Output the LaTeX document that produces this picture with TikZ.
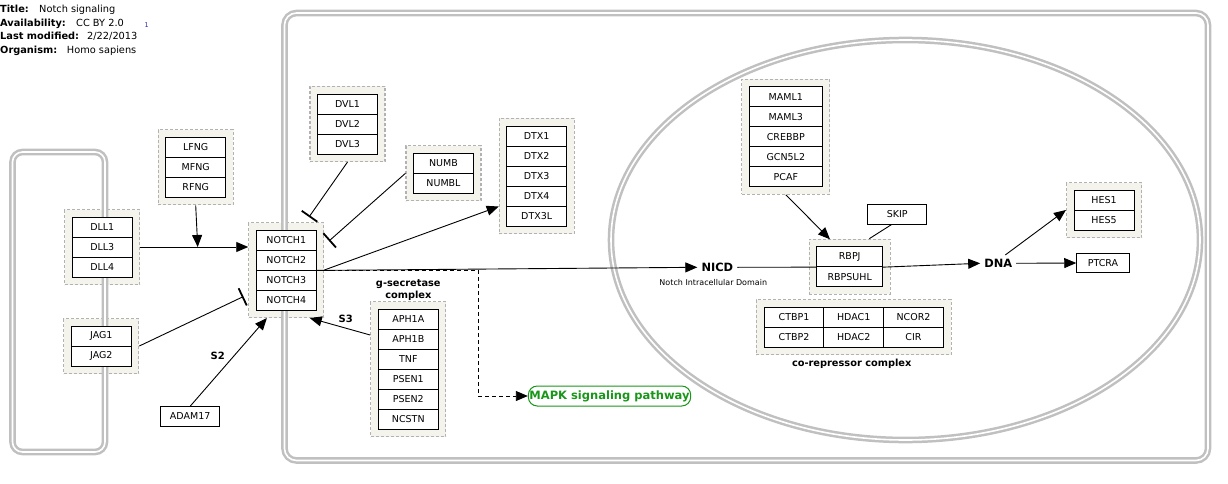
\documentclass[tikz,border=0pt]{standalone}
\usepackage{fontspec}
\setmainfont{DejaVu Sans}
\usetikzlibrary{arrows.meta}
\definecolor{membr}{RGB}{192,192,192}
\definecolor{grpfill}{RGB}{244,244,237}
\definecolor{grpline}{RGB}{178,178,178}
\definecolor{mapkgreen}{RGB}{25,150,25}
\definecolor{refblue}{RGB}{40,40,170}
\begin{document}
\begin{tikzpicture}[x=1pt,y=-1pt,
  membrane/.style={draw=membr, line width=2.5pt, double=white, double distance=1.6pt},
  grp/.style={draw=grpline, fill=grpfill, dash pattern=on 3pt off 2pt, line width=1.1pt, inner sep=0pt},
  gene/.style={draw=black, fill=white, line width=0.9pt, minimum width=60pt, minimum height=20pt, inner sep=0pt, font=\fontsize{9.5}{11}\selectfont},
  hdr/.style={anchor=base west, inner sep=0pt, font=\fontsize{9.8}{12}\selectfont},
  biglabel/.style={inner sep=4pt, font=\fontsize{11.4}{13}\selectfont\bfseries},
  boldlabel/.style={inner sep=0pt, font=\fontsize{9.8}{11.4}\selectfont\bfseries, align=center},
  conn/.style={draw=black, line width=0.9pt},
  act/.style={conn, -{Triangle[length=12pt,width=10pt]}},
  inh/.style={conn, -{Bar[width=19pt,line width=1.8pt]}},
]
\useasboundingbox (0,0) rectangle (1228,484);

% ---- header ----
\node[hdr] (htitle) at (0,13) {\bfseries Title:};
\node[hdr] (htitlev) at (39,13) {Notch signaling};
\node[hdr] (havail) at (0,26.5) {\bfseries Availability:};
\node[hdr] (havailv) at (76,26.5) {CC BY 2.0};
\node[inner sep=0pt, text=refblue, font=\fontsize{6.5}{7}\selectfont] (hnote) at (146.7,25) {1};
\node[hdr] (hmod) at (0,40) {\bfseries Last modified:};
\node[hdr] (hmodv) at (87,40) {2/22/2013};
\node[hdr] (horg) at (0,53.5) {\bfseries Organism:};
\node[hdr] (horgv) at (66.7,53.5) {Homo sapiens};

% ---- group backgrounds ----
\node[grp, minimum width=75pt, minimum height=75pt] (lfnggrp) at (195.7,167.3) {};
\node[grp, minimum width=75pt, minimum height=95pt] (notchgrp) at (286.3,270) {};
\node[grp, minimum width=75pt, minimum height=75pt] (dllgrp) at (102.3,247) {};
\node[grp, minimum width=75pt, minimum height=55pt] (jaggrp) at (101.3,346) {};
\node[grp, minimum width=75pt, minimum height=75pt] (dvlgrp) at (347.5,124) {};
\node[grp, minimum width=75pt, minimum height=55pt] (numbgrp) at (443.5,173.3) {};
\node[grp, minimum width=75pt, minimum height=115pt] (dtxgrp) at (536.7,176) {};
\node[grp, minimum width=75pt, minimum height=135pt] (gsecgrp) at (408.3,369.3) {};
\node[grp, minimum width=88pt, minimum height=115pt] (mamlgrp) at (785.8,136.7) {};
\node[grp, minimum width=81pt, minimum height=55pt] (rbpjgrp) at (849.7,266.7) {};
\node[grp, minimum width=195pt, minimum height=55pt] (corepgrp) at (853.7,327.3) {};
\node[grp, minimum width=75pt, minimum height=55pt] (hesgrp) at (1104,210) {};

% ---- membranes: two cells and the nucleus ----
\draw[membrane, rounded corners=10pt] (12.5,152) rectangle (105,452);
\draw[membrane, rounded corners=12pt] (284.5,13) rectangle (1208,460.5);
\draw[membrane] (905.5,240) ellipse [x radius=294.5, y radius=200];

% ---- gene products ----
\node[gene] (lfng) at (195.7,147.3) {LFNG};
\node[gene] (mfng) at (195.7,167.3) {MFNG};
\node[gene] (rfng) at (195.7,187.3) {RFNG};

\node[gene] (notch1) at (286.3,240) {NOTCH1};
\node[gene] (notch2) at (286.3,260) {NOTCH2};
\node[gene] (notch3) at (286.3,280) {NOTCH3};
\node[gene] (notch4) at (286.3,300) {NOTCH4};

\node[gene] (dll1) at (102.3,227) {DLL1};
\node[gene] (dll3) at (102.3,247) {DLL3};
\node[gene] (dll4) at (102.3,267) {DLL4};

\node[gene] (jag1) at (101.3,336) {JAG1};
\node[gene] (jag2) at (101.3,356) {JAG2};

\node[gene] (dvl1) at (347.5,104) {DVL1};
\node[gene] (dvl2) at (347.5,124) {DVL2};
\node[gene] (dvl3) at (347.5,144) {DVL3};

\node[gene] (numb) at (443.5,163.3) {NUMB};
\node[gene] (numbl) at (443.5,183.3) {NUMBL};

\node[gene] (dtx1) at (536.7,136) {DTX1};
\node[gene] (dtx2) at (536.7,156) {DTX2};
\node[gene] (dtx3) at (536.7,176) {DTX3};
\node[gene] (dtx4) at (536.7,196) {DTX4};
\node[gene] (dtx3l) at (536.7,216) {DTX3L};

\node[gene] (aph1a) at (408.3,319.3) {APH1A};
\node[gene] (aph1b) at (408.3,339.3) {APH1B};
\node[gene] (tnf) at (408.3,359.3) {TNF};
\node[gene] (psen1) at (408.3,379.3) {PSEN1};
\node[gene] (psen2) at (408.3,399.3) {PSEN2};
\node[gene] (ncstn) at (408.3,419.3) {NCSTN};

\node[gene, minimum width=73pt] (maml1) at (785.8,96.7) {MAML1};
\node[gene, minimum width=73pt] (maml3) at (785.8,116.7) {MAML3};
\node[gene, minimum width=73pt] (crebbp) at (785.8,136.7) {CREBBP};
\node[gene, minimum width=73pt] (gcn5l2) at (785.8,156.7) {GCN5L2};
\node[gene, minimum width=73pt] (pcaf) at (785.8,176.7) {PCAF};

\node[gene, minimum width=66pt] (rbpj) at (849.7,256.7) {RBPJ};
\node[gene, minimum width=66pt] (rbpsuhl) at (849.7,276.7) {RBPSUHL};

\node[gene, minimum width=59.7pt] (ctbp1) at (794,317.3) {CTBP1};
\node[gene, minimum width=59.7pt] (hdac1) at (853.7,317.3) {HDAC1};
\node[gene, minimum width=59.7pt] (ncor2) at (913.5,317.3) {NCOR2};
\node[gene, minimum width=59.7pt] (ctbp2) at (794,337.3) {CTBP2};
\node[gene, minimum width=59.7pt] (hdac2) at (853.7,337.3) {HDAC2};
\node[gene, minimum width=59.7pt] (cir) at (913.5,337.3) {CIR};

\node[gene] (hes1) at (1104,200) {HES1};
\node[gene] (hes5) at (1104,220) {HES5};

\node[gene, minimum width=59pt, minimum height=19.5pt] (skip) at (897.2,214.5) {SKIP};
\node[gene, minimum width=52.6pt, minimum height=19.4pt] (ptcra) at (1103,263) {PTCRA};
\node[gene, minimum width=59pt, minimum height=19.3pt] (adam) at (190.2,416.3) {ADAM17};

% ---- labels ----
\node[biglabel] (nicd) at (717.3,267.3) {NICD};
\node[inner sep=0pt, font=\fontsize{8}{9}\selectfont] (nicdtext) at (713.3,282.7) {Notch Intracellular Domain};
\node[biglabel] (dna) at (998.3,263.3) {DNA};
\node[boldlabel] (gseclabel) at (408.3,290) {g-secretase\\complex};
\node[boldlabel] (coreplabel) at (851.7,364) {co-repressor complex};
\node[boldlabel, font=\fontsize{10}{12}\selectfont\bfseries] (s3) at (345.7,319) {S3};
\node[boldlabel, font=\fontsize{10}{12}\selectfont\bfseries] (s2) at (217.7,356) {S2};
\node[draw=mapkgreen, line width=1pt, rounded corners=9pt, minimum width=162.4pt, minimum height=20pt,
      inner sep=0pt, text=mapkgreen, font=\fontsize{11.5}{13}\selectfont\bfseries] (mapk) at (609.5,396) {MAPK signaling pathway};

% ---- connector end points ----
\coordinate (lfngtip) at (197.7,247);
\coordinate (jagend) at (243.5,296.5);
\coordinate (dvlend) at (309,217);
\coordinate (numbend) at (329,241);
\coordinate (dtxin) at (498.7,206.5);
\coordinate (mapkbend) at (478,270);
\coordinate (rbpjin) at (830,239.3);

% ---- interactions ----
\draw[act] (dllgrp.east) -- (notchgrp.west |- dllgrp.east);
\draw[act] (lfnggrp.south) -- (lfngtip);
\draw[inh] (jaggrp.east) -- (jagend);
\draw[inh] (dvlgrp.south) -- (dvlend);
\draw[inh] (numbgrp.west) -- (numbend);
\draw[act] (notchgrp.east) -- (dtxin);
\draw[act] (notch2.south east) -- (nicd.west);
\draw[conn] (nicd.east) -- (rbpj.south west);
\draw[act] (rbpj.south east) -- (dna.west);
\draw[act] (dna.east) -- (ptcra.west);
\draw[act] (dna.50) -- (hesgrp.west);
\draw[act] (mamlgrp.south) -- (rbpjin);
\draw[conn] (skip.240) -- (rbpjgrp.55);
\draw[act] (gsecgrp.138) -- (notchgrp.296.5);
\draw[act] (adam.north) -- (notchgrp.248);
\draw[act, dash pattern=on 4pt off 3pt] (notchgrp.east) -- (mapkbend) |- (mapk.west);
\end{tikzpicture}
\end{document}
